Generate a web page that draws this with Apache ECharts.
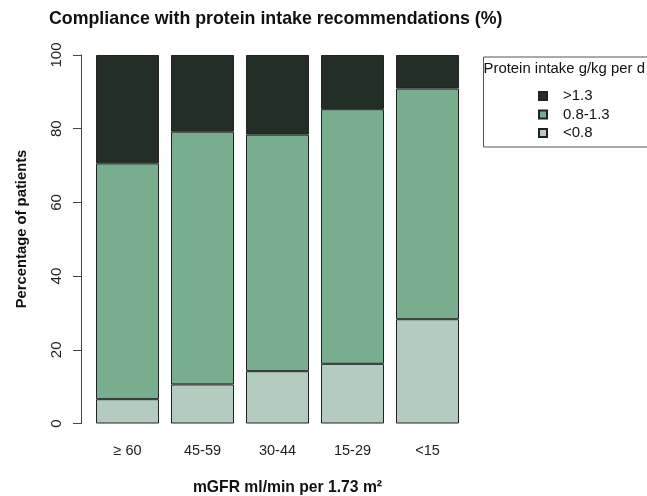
<!DOCTYPE html>
<html>
<head>
<meta charset="utf-8">
<script src="https://cdn.jsdelivr.net/npm/echarts@6/dist/echarts.min.js"></script>
<style>
  html, body { margin: 0; padding: 0; background: #fff; }
  #chart { width: 647px; height: 496px; }
</style>
</head>
<body>
<div id="chart"></div>
<script>
// mGFR groups (ml/min per 1.73 m²)
const categories = ['\u2265 60', '45-59', '30-44', '15-29', '<15'];
// share of patients per protein-intake band, in percent (stacks to 100)
const below08 = [6.6, 10.6, 14.2, 16.2, 28.3];
const from08to13 = [64.0, 68.6, 64.2, 69.1, 62.6];
const above13 = [29.4, 20.8, 21.6, 14.7, 9.1];
const yTicks = [0, 20, 40, 60, 80, 100];

const FONT = "'Liberation Sans', Arial, Helvetica, sans-serif";
const colors = { high: '#222e26', mid: '#78ae8e', low: '#b4cbbf' };

const chart = echarts.init(document.getElementById('chart'), null, { renderer: 'canvas' });

const barStyle = (c) => ({ color: c, borderColor: '#222', borderWidth: 1 });

chart.setOption({
  animation: false,
  textStyle: { fontFamily: FONT },
  grid: { left: 90, top: 55, width: 375, height: 368.5 },
  xAxis: {
    type: 'category',
    data: categories,
    axisLine: { show: false },
    axisTick: { show: false },
    axisLabel: { fontSize: 14.5, color: '#222', margin: 20, fontFamily: FONT }
  },
  yAxis: {
    type: 'value',
    min: yTicks[0],
    max: yTicks[yTicks.length - 1],
    interval: 20,
    offset: 9,
    axisLine: { show: true, lineStyle: { color: '#444', width: 1 } },
    axisTick: { show: true, length: 8, lineStyle: { color: '#444', width: 1 } },
    axisLabel: { rotate: 90, fontSize: 15, color: '#222', margin: 17, fontFamily: FONT },
    splitLine: { show: false }
  },
  legend: {
    orient: 'vertical',
    left: 533,
    top: 83,
    icon: 'rect',
    itemWidth: 8,
    itemHeight: 8,
    itemGap: 2.5,
    data: ['>1.3', '0.8-1.3', '<0.8'],
    textStyle: { fontSize: 15, color: '#111', lineHeight: 16, padding: [0, 0, 0, 11], fontFamily: FONT }
  },
  graphic: [
    {
      type: 'rect', left: 481, top: 54.5, z: -1,
      shape: { width: 200, height: 90 },
      style: { fill: 'none', stroke: '#555', lineWidth: 1 }
    },
    {
      type: 'text', x: 483.5, y: 68.5,
      style: { text: 'Protein intake g/kg per d', font: '14.9px ' + FONT, fill: '#111', textVerticalAlign: 'middle' }
    },
    {
      type: 'text', x: 49, y: 19,
      style: { text: 'Compliance with protein intake recommendations (%)', font: 'bold 17.8px ' + FONT, fill: '#111', textVerticalAlign: 'middle' }
    },
    {
      type: 'text', x: 287.5, y: 488,
      style: { text: 'mGFR ml/min per 1.73 m\u00b2', font: 'bold 15.7px ' + FONT, fill: '#111', textAlign: 'center', textVerticalAlign: 'middle' }
    },
    {
      type: 'text', x: 22, y: 229, rotation: Math.PI / 2,
      style: { text: 'Percentage of patients', font: 'bold 14.8px ' + FONT, fill: '#111', textAlign: 'center', textVerticalAlign: 'middle' }
    }
  ],
  series: [
    { name: '<0.8', type: 'bar', stack: 'p', data: below08, barCategoryGap: '16%', itemStyle: barStyle(colors.low) },
    { name: '0.8-1.3', type: 'bar', stack: 'p', data: from08to13, itemStyle: barStyle(colors.mid) },
    { name: '>1.3', type: 'bar', stack: 'p', data: above13, itemStyle: barStyle(colors.high) }
  ]
});
</script>
</body>
</html>
